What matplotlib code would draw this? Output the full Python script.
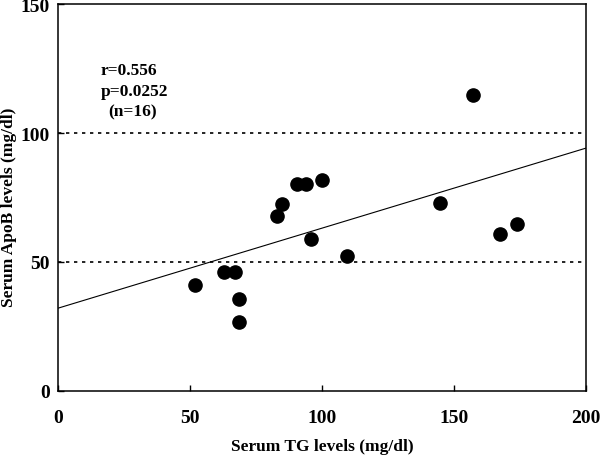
import numpy as np
import matplotlib
matplotlib.use('Agg')
import matplotlib.pyplot as plt

# Serum TG (mg/dl) vs Serum ApoB (mg/dl)
tg = [52.0, 62.8, 67.1, 68.7, 68.7, 82.9, 84.8, 90.4, 93.8, 100.1,
      95.9, 109.6, 144.7, 157.3, 167.6, 173.9]
apob = [41.2, 46.1, 46.1, 35.7, 26.7, 67.9, 72.3, 80.1, 80.1, 81.9,
        59.0, 52.4, 72.9, 114.7, 60.7, 64.8]

# regression line as drawn
fit_intercept = 32.1
fit_slope = 0.31

ref_levels = [50, 100]
stats_lines = ['r=0.556', 'p=0.0252', '(n=16)']

plt.rcParams['font.family'] = 'Liberation Serif'
plt.rcParams['font.weight'] = 'bold'

fig = plt.figure(figsize=(6, 4.6), dpi=100)
ax = fig.add_axes([0.097, 0.148, 0.879, 0.841])

ax.plot(tg, apob, 'o', color='black', markersize=9.5, zorder=3)

xs = np.array([0, 200])
ax.plot(xs, fit_intercept + fit_slope * xs, color='black', lw=0.8)

for lvl in ref_levels:
    ax.axhline(lvl, color='black', lw=1.2, linestyle=(0, (2.0, 2.8)))

ax.text(16, 124.5, stats_lines[0], fontsize=12.5, fontweight='bold', va='center')
ax.text(16, 116.3, stats_lines[1], fontsize=12.5, fontweight='bold', va='center')
ax.text(19, 108.3, stats_lines[2], fontsize=12.5, fontweight='bold', va='center')

ax.set_xlim(0, 200)
ax.set_ylim(0, 150)
ax.set_xticks([0, 50, 100, 150, 200])
ax.set_yticks([0, 50, 100, 150])
ax.tick_params(direction='in', length=4, width=1, labelsize=14)
ax.tick_params(axis='x', pad=13)
ax.tick_params(axis='y', pad=6)
for lab in ax.get_xticklabels() + ax.get_yticklabels():
    lab.set_fontweight('bold')
for sp in ax.spines.values():
    sp.set_linewidth(1.1)

ax.set_xlabel('Serum TG levels (mg/dl)', fontsize=12.5, fontweight='bold', labelpad=9)
ax.set_ylabel('Serum ApoB levels (mg/dl)', fontsize=12.5, fontweight='bold')
ax.yaxis.set_label_coords(-0.079, 0.478)

fig.savefig('out.png', dpi=100)
